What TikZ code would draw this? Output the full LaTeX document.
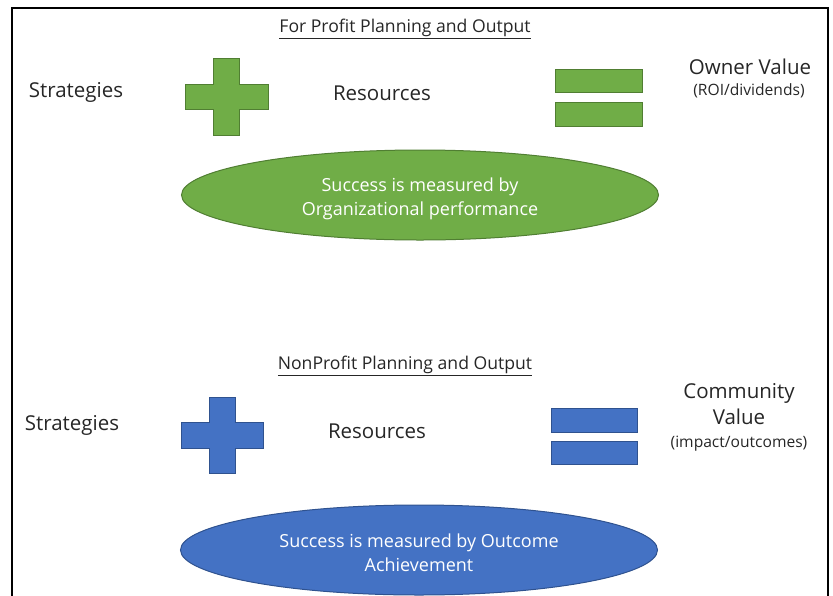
\documentclass[tikz,border=0pt]{standalone}
\usepackage{fontspec}
\setmainfont{Open Sans}
\usetikzlibrary{shapes.geometric}
\definecolor{gfill}{HTML}{70AD47}
\definecolor{gline}{HTML}{507E32}
\definecolor{bfill}{HTML}{4472C4}
\definecolor{bline}{HTML}{2F528F}
\tikzset{
  lbl/.style={font=\fontsize{20.5}{24}\selectfont, inner sep=0pt, text=black!85, text height=1.5ex, text depth=.4ex},
  small/.style={font=\fontsize{15.6}{18}\selectfont, inner sep=0pt, text=black!85, text height=1.5ex, text depth=.4ex},
  ttl/.style={font=\fontsize{17.6}{20}\selectfont, inner sep=0pt, text=black!85, text height=1.5ex, text depth=.4ex},
  oval/.style={ellipse, draw=#1, line width=1pt, minimum width=477pt, minimum height=90pt, inner sep=0pt},
  ovaltext/.style={text=white, align=center, inner sep=0pt, font=\fontsize{18}{24}\selectfont},
  shp/.style={line width=1pt}
}
\begin{document}
\begin{tikzpicture}[x=1pt,y=-1pt]
\useasboundingbox (0,0) rectangle (833,595);
\draw[line width=2pt] (11.5,620) -- (11.5,7.5) -- (827.5,7.5) -- (827.5,620);
% ---------- top: for profit ----------
\node[ttl] (t1) at (405,30) {\underline{For Profit Planning and Output}};
\node[lbl] (s1) at (76,95) {Strategies};
\node[lbl] (r1) at (382,98) {Resources};
\node[lbl] (o1) at (750,72) {Owner Value};
\node[small] (o1b) at (749,93) {(ROI/dividends)};
\filldraw[shp, fill=gfill, draw=gline]
  (213,58) -- (239,58) -- (239,84) -- (268,84) -- (268,109) -- (239,109) -- (239,135)
  -- (213,135) -- (213,109) -- (185,109) -- (185,84) -- (213,84) -- cycle;
\filldraw[shp, fill=gfill, draw=gline] (555,69) rectangle (642,92);
\filldraw[shp, fill=gfill, draw=gline] (555,102) rectangle (642,126);
\node[oval, draw=gline, fill=gfill] (e1) at (420,195) {};
\node[ovaltext] (e1t) at (420,199) {Success is measured by\\Organizational performance};
% ---------- bottom: nonprofit ----------
\node[ttl] (t2) at (405,367) {\underline{NonProfit Planning and Output}};
\node[lbl] (s2) at (72,428) {Strategies};
\node[lbl] (r2) at (377,436) {Resources};
\node[lbl] (c2) at (739,396) {Community};
\node[lbl] (c2b) at (739,422) {Value};
\node[small] (c2c) at (739,445) {(impact/outcomes)};
\filldraw[shp, fill=bfill, draw=bline]
  (209,397) -- (235,397) -- (235,422) -- (263,422) -- (263,448) -- (235,448) -- (235,473)
  -- (209,473) -- (209,448) -- (181,448) -- (181,422) -- (209,422) -- cycle;
\filldraw[shp, fill=bfill, draw=bline] (551,408) rectangle (637,432);
\filldraw[shp, fill=bfill, draw=bline] (551,441) rectangle (637,464);
\node[oval, draw=bline, fill=bfill] (e2) at (419,550) {};
\node[ovaltext] (e2t) at (419,553) {Success is measured by Outcome\\Achievement};
\end{tikzpicture}
\end{document}
